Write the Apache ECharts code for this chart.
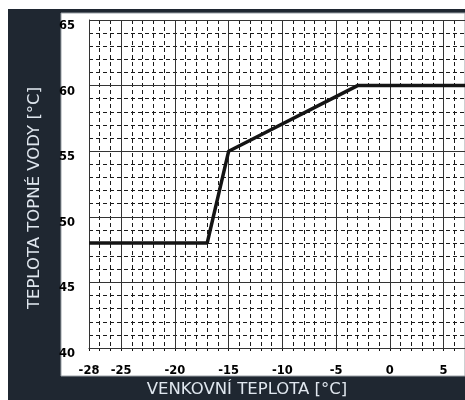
<!DOCTYPE html>
<html><head><meta charset="utf-8">
<script src="https://cdn.jsdelivr.net/npm/echarts@6/dist/echarts.min.js"></script>
<style>html,body{margin:0;padding:0;background:#fff}#c{width:465px;height:400px}</style>
</head><body><div id="c"></div>
<script>
const xMin = -28, xMax = 7;
const yMin = 40, yMax = 65;
const xTickLabels = [-28, -25, -20, -15, -10, -5, 0, 5];
const yTickLabels = [40, 45, 50, 55, 60, 65];
const curveX = [-28, -17, -15, -3, 7];
const curveY = [48, 48, 55, 60, 60];
const xTitle = 'VENKOVNÍ TEPLOTA [°C]';
const yTitle = 'TEPLOTA TOPNÉ VODY [°C]';

const chart = echarts.init(document.getElementById('c'), null, {renderer: 'canvas'});
const majorLines = xTickLabels.map(v => ({xAxis: v})).concat(yTickLabels.map(v => ({yAxis: v})));
const fontFam = '"DejaVu Sans", sans-serif';
chart.setOption({
  animation: false,
  backgroundColor: '#ffffff',
  graphic: [
    {type: 'rect', z: -10, shape: {x: 8, y: 9, width: 457, height: 391}, style: {fill: '#1f2731'}},
    {type: 'rect', z: -9, shape: {x: 61, y: 13, width: 404, height: 363}, style: {fill: '#ffffff', stroke: '#9aa0a6', lineWidth: 1}},
    {type: 'text', z: 10, x: 247, y: 390, style: {text: xTitle, fill: '#dfe6ee', font: '16.5px ' + fontFam, textAlign: 'center', textVerticalAlign: 'middle'}},
    {type: 'text', z: 10, x: 35, y: 198, rotation: Math.PI / 2, style: {text: yTitle, fill: '#dfe6ee', font: '16.5px ' + fontFam, textAlign: 'center', textVerticalAlign: 'middle'}}
  ],
  grid: {left: 89, top: 20, width: 376, height: 328, show: false},
  xAxis: {
    type: 'value', min: xMin, max: xMax, interval: 1,
    axisLine: {show: true, onZero: false, lineStyle: {color: '#111', width: 1}},
    axisTick: {show: true, length: 3, lineStyle: {color: '#111'}},
    axisLabel: {
      margin: 17, color: '#000', fontWeight: 'bold', fontSize: 11.5, fontFamily: fontFam,
      showMinLabel: true, showMaxLabel: false,
      formatter: v => xTickLabels.includes(v) ? String(v) : ''
    },
    splitLine: {show: true, lineStyle: {color: '#1a1a1a', width: 1, type: [4, 3]}}
  },
  yAxis: {
    type: 'value', min: yMin, max: yMax, interval: 1,
    axisLine: {show: true, onZero: false, lineStyle: {color: '#111', width: 1}},
    axisTick: {show: false},
    axisLabel: {
      margin: 14, color: '#000', fontWeight: 'bold', fontSize: 11.5, fontFamily: fontFam,
      align: 'right', verticalAlign: 'top',
      formatter: v => yTickLabels.includes(v) ? (v === yMin ? '{b|' + v + '}' : String(v)) : '',
      rich: {b: {fontWeight: 'bold', fontSize: 11.5, color: '#000', fontFamily: fontFam, padding: [0, 0, 12, 0]}}
    },
    splitLine: {show: true, lineStyle: {color: '#1a1a1a', width: 1, type: [4, 3]}}
  },
  series: [{
    type: 'line',
    data: curveX.map((x, i) => [x, curveY[i]]),
    symbol: 'none',
    lineStyle: {color: '#141414', width: 3.5},
    z: 5,
    markLine: {
      silent: true, symbol: 'none', label: {show: false},
      lineStyle: {color: '#333', width: 1, type: 'solid'},
      data: majorLines, z: 3
    }
  }]
});
</script></body></html>
